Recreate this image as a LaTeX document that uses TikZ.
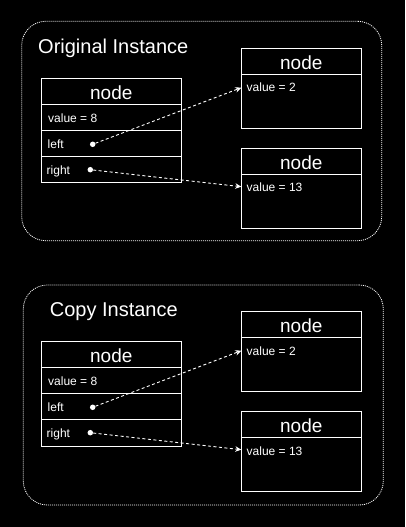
\documentclass[tikz,border=0pt]{standalone}
\usepackage{fontspec}
\setmainfont{Liberation Sans}
\usetikzlibrary{arrows.meta}
\tikzset{
 cellbox/.style={draw=white, line width=1bp, minimum width=140bp, inner sep=0pt, outer sep=0pt},
 rcellbox/.style={draw=white, line width=1bp, minimum width=120bp, inner sep=0pt, outer sep=0pt},
 smalltext/.style={text=white, font=\fontsize{12bp}{14bp}\selectfont, inner sep=0pt, anchor=base west},
 headtext/.style={text=white, font=\fontsize{19bp}{22bp}\selectfont, inner sep=0pt, anchor=base},
 titletext/.style={text=white, font=\fontsize{20bp}{24bp}\selectfont, inner sep=0pt, anchor=base west},
 ptrdot/.style={circle, fill=white, inner sep=0pt, minimum size=5.5bp},
 ptrline/.style={draw=white, line width=0.9bp, dash pattern=on 3bp off 2.5bp, -{Stealth[length=6bp,width=5.5bp]}},
 groupbox/.style={draw=white, line width=0.8bp, dash pattern=on 1bp off 1bp, rounded corners=24bp, inner sep=0pt},
}
\newcommand\drawinstance[2]{%
 \begin{scope}[shift={(0,#2)}]
  % left node
  \node[cellbox, minimum height=26bp] (#1h) at (111.3,91.3) {};
  \node[headtext] (#1ht) at (111.3,99.3) {node};
  \node[cellbox, minimum height=26.2bp] (#1v) at (111.3,117.4) {};
  \node[smalltext] (#1vt) at (48,122.5) {value = 8};
  \node[cellbox, minimum height=26.2bp] (#1l) at (111.3,143.6) {};
  \node[smalltext] (#1lt) at (47.5,148.6) {left};
  \node[cellbox, minimum height=26.3bp] (#1r) at (111.3,169.85) {};
  \node[smalltext] (#1rt) at (46.5,174.2) {right};
  \node[ptrdot] (#1dl) at (92.7,144.3) {};
  \node[ptrdot] (#1dr) at (90.3,169.7) {};
  % right top node
  \node[rcellbox, minimum height=25.6bp] (#1ah) at (301.3,61.5) {};
  \node[headtext] (#1aht) at (301.3,69.3) {node};
  \node[rcellbox, minimum height=54bp] (#1ab) at (301.3,101.3) {};
  \node[smalltext] (#1abt) at (246.5,92) {value = 2};
  \coordinate (#1ta) at (241.3,87.7);
  % right bottom node
  \node[rcellbox, minimum height=25.6bp] (#1bh) at (301.3,161.5) {};
  \node[headtext] (#1bht) at (301.3,169.3) {node};
  \node[rcellbox, minimum height=54bp] (#1bb) at (301.3,201.3) {};
  \node[smalltext] (#1bbt) at (246.5,192) {value = 13};
  \coordinate (#1tb) at (241.3,186.7);
  % pointers
  \draw[ptrline] (#1dl) -- (#1ta);
  \draw[ptrline] (#1dr) -- (#1tb);
 \end{scope}}
\begin{document}
\begin{tikzpicture}[x=1bp,y=-1bp]
 \fill[black] (0,0) rectangle (405,527);
 \useasboundingbox (0,0) rectangle (405,527);
 \node[groupbox, minimum width=360bp, minimum height=219.4bp] (ogroup) at (201.7,131) {};
 \node[titletext] (otitle) at (38,53.3) {Original Instance};
 \node[groupbox, minimum width=360bp, minimum height=220bp] (cgroup) at (203.3,395) {};
 \node[titletext] (ctitle) at (49.7,316.7) {Copy Instance};
 \drawinstance{o}{0}
 \drawinstance{c}{263}
\end{tikzpicture}
\end{document}
